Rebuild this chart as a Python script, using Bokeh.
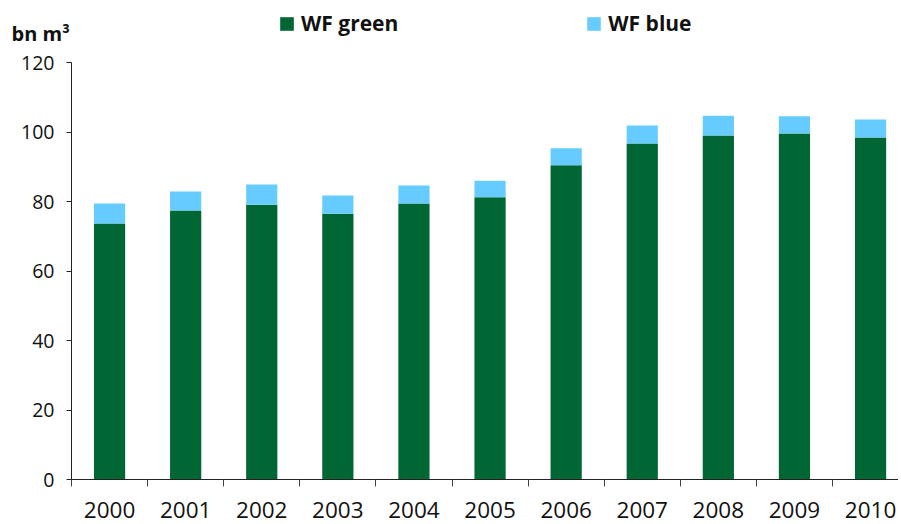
from bokeh.plotting import figure
from bokeh.models import Range1d, FixedTicker, Legend, LegendItem, Label, ColumnDataSource
from bokeh.embed import file_html
from bokeh.resources import INLINE

years = [2000, 2001, 2002, 2003, 2004, 2005, 2006, 2007, 2008, 2009, 2010]
wf_green = [73.7, 77.4, 79.1, 76.5, 79.4, 81.2, 90.4, 96.7, 99.0, 99.6, 98.4]
wf_blue = [5.7, 5.5, 5.8, 5.2, 5.2, 4.8, 4.9, 5.2, 5.7, 4.9, 5.2]
y_ticks = [0, 20, 40, 60, 80, 100, 120]
unit_label = "bn m³"

GREEN = "#006633"
BLUE = "#66CCFF"
FONT = "Open Sans"

W, H = 898, 524
PX_X = 76.1          # pixels per year
PX_Y = 3.475         # pixels per bn m³
AX_LEFT = 71         # pixel position of y axis
AX_BOTTOM = 479      # pixel position of x axis

x0 = years[0] - 0.5
x_start = x0 - AX_LEFT / PX_X
x_end = x_start + W / PX_X
y_end = AX_BOTTOM / PX_Y
y_start = -(H - AX_BOTTOM) / PX_Y

top = [g + b for g, b in zip(wf_green, wf_blue)]
src = ColumnDataSource(dict(x=years, green=wf_green, top=top))

p = figure(width=W, height=H, output_backend="svg", toolbar_location=None,
           x_range=Range1d(x_start, x_end), y_range=Range1d(y_start, y_end),
           min_border=0)
p.outline_line_color = None
p.xgrid.visible = False
p.ygrid.visible = False

r_green = p.vbar(x="x", bottom=0, top="green", width=0.41, source=src,
                 fill_color=GREEN, line_color=None)
r_blue = p.vbar(x="x", bottom="green", top="top", width=0.41, source=src,
                fill_color=BLUE, line_color=None)

# x axis
p.xaxis.fixed_location = 0
p.xaxis.bounds = (x0, x_end)
p.xaxis.ticker = FixedTicker(ticks=years, minor_ticks=[y - 0.5 for y in years] + [years[-1] + 0.5])
p.xaxis.major_tick_line_color = None
p.xaxis.minor_tick_line_color = "#444444"
p.xaxis.minor_tick_out = 7
p.xaxis.minor_tick_in = 0
p.xaxis.axis_line_color = "#222222"
p.xaxis.major_label_text_font = FONT
p.xaxis.major_label_text_font_size = "22.5px"
p.xaxis.major_label_text_color = "#111111"
p.xaxis.major_label_standoff = 15

# y axis
p.yaxis.fixed_location = x0
p.yaxis.bounds = (0, 120)
p.yaxis.ticker = FixedTicker(ticks=y_ticks)
p.yaxis.minor_tick_line_color = None
p.yaxis.major_tick_out = 5
p.yaxis.major_tick_in = 0
p.yaxis.major_tick_line_color = "#222222"
p.yaxis.axis_line_color = "#222222"
p.yaxis.major_label_text_font = FONT
p.yaxis.major_label_text_font_size = "19.5px"
p.yaxis.major_label_text_color = "#111111"
p.yaxis.major_label_standoff = 12

# unit label
p.add_layout(Label(x=x_start + 11 / PX_X, y=y_end - 33 / PX_Y, text=unit_label, text_font=FONT,
                   text_font_size="20px", text_font_style="bold", text_color="#111111",
                   text_baseline="alphabetic", text_align="left"))

legend = Legend(items=[LegendItem(label="WF green", renderers=[r_green]),
                       LegendItem(label="WF blue", renderers=[r_blue])],
                orientation="horizontal", location=(278, H - 37),
                glyph_width=17, glyph_height=17, label_standoff=6, spacing=187,
                padding=0, margin=0, border_line_color=None, background_fill_alpha=0,
                label_text_font=FONT, label_text_font_size="21px", label_text_font_style="bold",
                label_text_color="#111111")
p.add_layout(legend, "center")

open("out.html", "w").write(file_html(p, INLINE))
